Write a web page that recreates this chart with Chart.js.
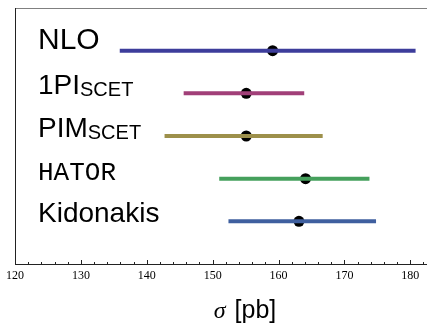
<!DOCTYPE html>
<html>
<head>
<meta charset="utf-8">
<script src="https://cdn.jsdelivr.net/npm/chart.js@4"></script>
<style>
  html, body { margin: 0; padding: 0; background: #fff; }
  #wrap { width: 427px; height: 325px; }
</style>
</head>
<body>
<div id="wrap"><canvas id="c" width="427" height="325"></canvas></div>
<script>
const categories = ['NLO', '1PI', 'PIM', 'HATOR', 'Kidonakis'];
const labelSubs = ['', 'SCET', 'SCET', '', ''];
const centralValues = [159.1, 155.1, 155.1, 164.1, 163.1];
const lowerValues = [135.9, 145.6, 142.7, 151.0, 152.4];
const upperValues = [180.8, 163.9, 166.7, 173.8, 174.8];
const seriesColors = ['#3d3d9b', '#a13f78', '#9d904b', '#45a05c', '#3f5f9f'];
const xTickLabels = [120, 130, 140, 150, 160, 170, 180];
const xMinorStep = 2;
const xMin = 120, xMax = 181.7;
const axisTitleSymbol = 'σ';
const axisTitleUnit = '[pb]';

const datasets = categories.map((name, i) => ({
  label: name,
  data: [{x: lowerValues[i], y: i + 1}, {x: upperValues[i], y: i + 1}],
  showLine: true,
  borderColor: seriesColors[i],
  borderWidth: 4,
  borderCapStyle: 'butt',
  pointRadius: 0,
  pointHoverRadius: 0
}));
datasets.push({
  label: 'central',
  data: centralValues.map((v, i) => ({x: v, y: i + 1})),
  showLine: false,
  backgroundColor: '#000',
  borderWidth: 0,
  pointRadius: 5.5,
  pointHoverRadius: 5.5
});

const framePlugin = {
  id: 'frame',
  afterDraw(chart) {
    const ctx = chart.ctx;
    const a = chart.chartArea;
    const xs = chart.scales.x;
    const ys = chart.scales.y;
    ctx.save();
    ctx.lineWidth = 1;
    ctx.strokeStyle = '#808080';
    ctx.beginPath();
    ctx.moveTo(a.left, a.top + 0.5);
    ctx.lineTo(chart.width, a.top + 0.5);
    ctx.stroke();
    ctx.strokeStyle = '#222';
    ctx.beginPath();
    ctx.moveTo(a.left + 0.5, a.top);
    ctx.lineTo(a.left + 0.5, a.bottom);
    ctx.stroke();
    ctx.beginPath();
    ctx.moveTo(a.left, a.bottom + 0.5);
    ctx.lineTo(chart.width, a.bottom + 0.5);
    ctx.stroke();
    for (let v = xTickLabels[0]; ; v += xMinorStep) {
      const px = Math.round(xs.getPixelForValue(v)) + 0.5;
      if (px > chart.width) break;
      const len = xTickLabels.includes(v) ? 4 : 2;
      ctx.beginPath();
      ctx.moveTo(px, a.bottom);
      ctx.lineTo(px, a.bottom - len);
      ctx.stroke();
    }
    ctx.fillStyle = '#000';
    ctx.textAlign = 'left';
    ctx.textBaseline = 'alphabetic';
    categories.forEach((name, i) => {
      const py = ys.getPixelForValue(i + 1);
      const x = 38;
      let base = py + 1;
      if (name === 'NLO') {
        ctx.font = '30px "Liberation Sans", Arial, sans-serif';
        base = py - 2;
      } else if (name === 'HATOR') {
        ctx.font = '26px "Liberation Mono", "Courier New", monospace';
      } else {
        ctx.font = '28px "Liberation Sans", Arial, sans-serif';
      }
      ctx.fillText(name, x, base);
      if (labelSubs[i]) {
        const w = ctx.measureText(name).width;
        ctx.font = '20px "Liberation Sans", Arial, sans-serif';
        ctx.fillText(labelSubs[i], x + w, base + 2);
      }
    });
    ctx.font = 'italic 24px "Liberation Serif", serif';
    const sw = ctx.measureText(axisTitleSymbol).width;
    ctx.font = '25px "Liberation Sans", Arial, sans-serif';
    const uw = ctx.measureText(axisTitleUnit).width;
    const gap = 9;
    const total = sw + gap + uw;
    const tx = 245 - total / 2;
    ctx.font = 'italic 24px "Liberation Serif", serif';
    ctx.fillText(axisTitleSymbol, tx, 318);
    ctx.font = '25px "Liberation Sans", Arial, sans-serif';
    ctx.fillText(axisTitleUnit, tx + sw + gap, 318);
    ctx.restore();
  }
};

new Chart(document.getElementById('c'), {
  type: 'scatter',
  data: { datasets },
  options: {
    responsive: false,
    animation: false,
    events: [],
    layout: { padding: { left: 15, top: 8, right: 0, bottom: 0 } },
    plugins: { legend: { display: false }, tooltip: { enabled: false }, title: { display: false } },
    scales: {
      x: {
        type: 'linear',
        min: xMin,
        max: xMax,
        border: { display: false },
        grid: { display: false, drawTicks: false },
        ticks: {
          stepSize: xMinorStep,
          includeBounds: false,
          autoSkip: false,
          maxRotation: 0,
          padding: 5,
          color: '#000',
          font: { family: '"Liberation Serif", "Times New Roman", serif', size: 12 },
          callback: (v) => xTickLabels.includes(Math.round(v)) && Math.abs(v - Math.round(v)) < 1e-6 ? String(Math.round(v)) : ''
        },
        afterFit: (s) => { s.height = 61; }
      },
      y: {
        type: 'linear',
        display: false,
        min: 0,
        max: 6,
        reverse: true
      }
    }
  },
  plugins: [framePlugin]
});
</script>
</body>
</html>
